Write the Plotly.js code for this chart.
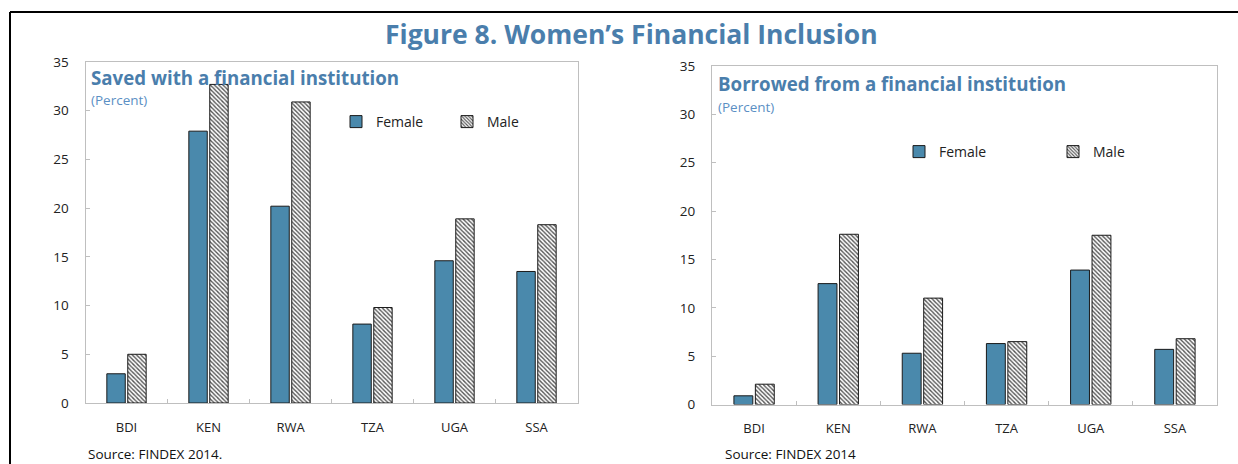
<!DOCTYPE html>
<html>
<head>
<meta charset="utf-8">
<script src="https://cdn.plot.ly/plotly-3.0.1.min.js"></script>
<style>
html,body{margin:0;padding:0;background:#fff;}
#chart{width:1238px;height:464px;}
</style>
</head>
<body>
<div id="chart"></div>
<script>
// ---- data ----
const categories = ["BDI", "KEN", "RWA", "TZA", "UGA", "SSA"];
const savedFemale = [3.0, 27.9, 20.2, 8.1, 14.6, 13.5];
const savedMale = [5.0, 32.7, 30.9, 9.8, 18.9, 18.3];
const borrowedFemale = [0.9, 12.5, 5.3, 6.3, 13.9, 5.7];
const borrowedMale = [2.1, 17.6, 11.0, 6.5, 17.5, 6.8];
const yTickVals = [0, 5, 10, 15, 20, 25, 30, 35];

// ---- layout helpers (pixel -> paper) ----
const W = 1238, H = 464;
const X = p => p / W;
const Y = p => 1 - p / H;

const FONT = "Open Sans, Noto Sans, sans-serif";
const femaleColor = "#4A89AC";
const titleBlue = "#4A7EAC";
const percentBlue = "#5B8FC4";

function femaleTrace(y, xa, ya, lg) {
  return {
    type: "bar", name: "Female", x: categories, y: y,
    xaxis: xa, yaxis: ya, legend: lg,
    marker: {color: femaleColor, line: {color: "#1a1a1a", width: 1}},
    hoverinfo: "x+y"
  };
}
function maleTrace(y, xa, ya, lg) {
  return {
    type: "bar", name: "Male", x: categories, y: y,
    xaxis: xa, yaxis: ya, legend: lg,
    marker: {
      color: "#ffffff",
      line: {color: "#1a1a1a", width: 1},
      pattern: {shape: "\\", fgcolor: "#555555", bgcolor: "#ffffff", size: 3, solidity: 0.45}
    },
    hoverinfo: "x+y"
  };
}

const data = [
  femaleTrace(savedFemale, "x", "y", "legend"),
  maleTrace(savedMale, "x", "y", "legend"),
  femaleTrace(borrowedFemale, "x2", "y2", "legend2"),
  maleTrace(borrowedMale, "x2", "y2", "legend2")
];

const frameColor = "#BFBFBF";
function xaxis(domain, anchor) {
  return {
    domain: domain, anchor: anchor, type: "category",
    showline: true, linecolor: frameColor, linewidth: 1, mirror: true,
    ticks: "inside", ticklen: 4, tickcolor: frameColor, tickson: "boundaries",
    showgrid: false, zeroline: false,
    tickfont: {family: FONT, size: 13, color: "#222"},
    ticklabelstandoff: 12, fixedrange: true
  };
}
function yaxis(domain, anchor) {
  return {
    domain: domain, anchor: anchor, range: [0, 35],
    tickvals: yTickVals, ticktext: yTickVals.map(String),
    showline: true, linecolor: frameColor, linewidth: 1, mirror: true,
    ticks: "inside", ticklen: 4, tickcolor: frameColor,
    showgrid: false, zeroline: false,
    tickfont: {family: FONT, size: 13.5, color: "#222"},
    ticklabelstandoff: 13, fixedrange: true
  };
}

const layout = {
  width: W, height: H,
  margin: {l: 0, r: 0, t: 0, b: 0, pad: 0},
  paper_bgcolor: "#ffffff", plot_bgcolor: "#ffffff",
  font: {family: FONT, color: "#222"},
  barmode: "group", bargap: 0.49, bargroupgap: 0.12,
  showlegend: true,
  xaxis: xaxis([X(85.5), X(577.5)], "y"),
  yaxis: yaxis([Y(403), Y(62)], "x"),
  xaxis2: xaxis([X(712), X(1217)], "y2"),
  yaxis2: yaxis([Y(404.5), Y(66)], "x2"),
  legend: {
    orientation: "h", x: X(336), y: Y(122), xanchor: "left", yanchor: "middle",
    bgcolor: "rgba(0,0,0,0)", font: {family: FONT, size: 14, color: "#222"},
    entrywidth: 66, itemwidth: 30, tracegroupgap: 0, traceorder: "normal"
  },
  legend2: {
    orientation: "h", x: X(899), y: Y(152), xanchor: "left", yanchor: "middle",
    bgcolor: "rgba(0,0,0,0)", font: {family: FONT, size: 14, color: "#222"},
    entrywidth: 109, itemwidth: 30, tracegroupgap: 0, traceorder: "normal"
  },
  shapes: [
    {type: "line", xref: "paper", yref: "paper", x0: X(10), x1: X(1238), y0: Y(12), y1: Y(12), line: {color: "#000", width: 2}},
    {type: "line", xref: "paper", yref: "paper", x0: X(10), x1: X(10), y0: Y(12), y1: Y(464), line: {color: "#000", width: 2}}
  ],
  annotations: [
    {text: "<b>Figure 8. Women’s Financial Inclusion</b>", xref: "paper", yref: "paper",
     x: X(631.5), y: Y(34), xanchor: "center", yanchor: "middle", showarrow: false,
     font: {family: FONT, size: 26.5, color: titleBlue}},
    {text: "<b>Saved with a financial institution</b>", xref: "paper", yref: "paper",
     x: X(89), y: Y(77), xanchor: "left", yanchor: "middle", showarrow: false,
     font: {family: FONT, size: 18.7, color: titleBlue}},
    {text: "(Percent)", xref: "paper", yref: "paper",
     x: X(89), y: Y(99.5), xanchor: "left", yanchor: "middle", showarrow: false,
     font: {family: FONT, size: 13.5, color: percentBlue}},
    {text: "<b>Borrowed from a financial institution</b>", xref: "paper", yref: "paper",
     x: X(716), y: Y(83.5), xanchor: "left", yanchor: "middle", showarrow: false,
     font: {family: FONT, size: 18.7, color: titleBlue}},
    {text: "(Percent)", xref: "paper", yref: "paper",
     x: X(716), y: Y(107), xanchor: "left", yanchor: "middle", showarrow: false,
     font: {family: FONT, size: 13.5, color: percentBlue}},
    {text: "Source: FINDEX 2014.", xref: "paper", yref: "paper",
     x: X(87), y: Y(464), xanchor: "left", yanchor: "bottom", showarrow: false,
     borderpad: 0, font: {family: FONT, size: 13.5, color: "#111"}},
    {text: "Source: FINDEX 2014", xref: "paper", yref: "paper",
     x: X(724), y: Y(464), xanchor: "left", yanchor: "bottom", showarrow: false,
     borderpad: 0, font: {family: FONT, size: 13.5, color: "#111"}}
  ]
};

Plotly.newPlot("chart", data, layout, {displayModeBar: false, staticPlot: true});
</script>
</body>
</html>
